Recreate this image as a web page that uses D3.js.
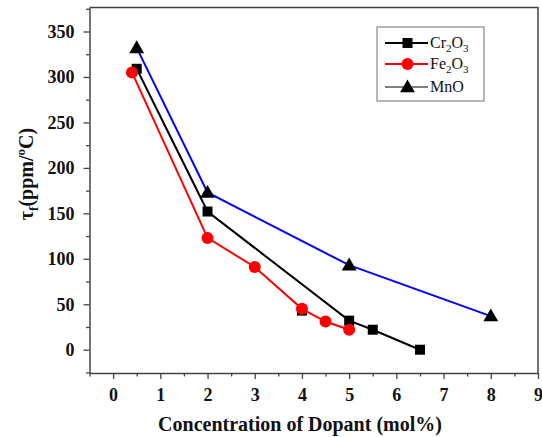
<!DOCTYPE html>
<html>
<head>
<meta charset="utf-8">
<script src="https://cdn.jsdelivr.net/npm/d3@7"></script>
<style>
  body { margin: 0; background: #fff; }
</style>
</head>
<body>
<div id="chart"></div>
<script>
// data
const crX = [0.5, 2, 5, 5.5, 6.5];
const crY = [309, 152, 32, 22, 0];
const crStrayX = [4];
const crStrayY = [43];
const feX = [0.4, 2, 3, 4, 4.5, 5];
const feY = [305, 123, 91, 45, 31, 22];
const mnX = [0.5, 2, 5, 8];
const mnY = [332, 173, 93, 37];
const xTicks = [0, 1, 2, 3, 4, 5, 6, 7, 8, 9];
const yTicks = [0, 50, 100, 150, 200, 250, 300, 350];

const W = 542, H = 437;
const margin = {top: 7.5, right: 4, bottom: 64, left: 89.5};
const serif = "'Liberation Serif', 'Times New Roman', 'DejaVu Serif', serif";

const svg = d3.select("#chart")
  .append("svg")
  .attr("width", W)
  .attr("height", H)
  .style("font-family", serif);

const x = d3.scaleLinear()
  .domain([-0.5, 9])
  .range([margin.left, W - margin.right]);

const y = d3.scaleLinear()
  .domain([-25.6, 376.4])
  .range([H - margin.bottom, margin.top]);

const axisColor = "#444";

// frame (top + right)
svg.append("path")
  .attr("d", `M${x(-0.5)},${y(376.4)}H${x(9)}V${y(-25.6)}`)
  .attr("fill", "none")
  .attr("stroke", axisColor)
  .attr("stroke-width", 1.5);

// minor ticks
const xMinor = d3.range(-0.5, 9.01, 0.5).filter(v => !Number.isInteger(v));
const yMinor = d3.range(-25, 376, 25).filter(v => v % 50 !== 0);

svg.append("g")
  .attr("transform", `translate(0, ${y(-25.6)})`)
  .call(d3.axisBottom(x).tickValues(xMinor).tickSize(3.5).tickFormat(""))
  .call(g => g.select(".domain").remove())
  .selectAll("line").attr("stroke", axisColor).attr("stroke-width", 1.3);

svg.append("g")
  .attr("transform", `translate(${x(-0.5)}, 0)`)
  .call(d3.axisLeft(y).tickValues(yMinor).tickSize(3.5).tickFormat(""))
  .call(g => g.select(".domain").remove())
  .selectAll("line").attr("stroke", axisColor).attr("stroke-width", 1.3);

// major axes
const xAxis = svg.append("g")
  .attr("transform", `translate(0, ${y(-25.6)})`)
  .call(d3.axisBottom(x).tickValues(xTicks).tickSize(6).tickSizeOuter(0).tickPadding(9));

const yAxis = svg.append("g")
  .attr("transform", `translate(${x(-0.5)}, 0)`)
  .call(d3.axisLeft(y).tickValues(yTicks).tickSize(6).tickSizeOuter(0).tickPadding(9));

[xAxis, yAxis].forEach(g => {
  g.attr("font-family", null).attr("font-size", null);
  g.select(".domain").attr("stroke", axisColor).attr("stroke-width", 1.5);
  g.selectAll("line").attr("stroke", axisColor).attr("stroke-width", 1.3);
  g.selectAll("text")
    .style("font-family", serif)
    .style("font-weight", "bold")
    .style("font-size", "18px")
    .attr("fill", "#111");
});

// axis titles
svg.append("text")
  .attr("x", 300)
  .attr("y", 431)
  .attr("text-anchor", "middle")
  .style("font-weight", "bold")
  .style("font-size", "20px")
  .attr("fill", "#111")
  .text("Concentration of Dopant (mol%)");

const yTitle = svg.append("text")
  .attr("transform", "translate(33, 174) rotate(-90)")
  .attr("text-anchor", "middle")
  .style("font-weight", "bold")
  .style("font-size", "20px")
  .attr("fill", "#111");
yTitle.append("tspan").text("τ");
yTitle.append("tspan").style("font-size", "13px").attr("dy", 5).text("f");
yTitle.append("tspan").attr("dy", -5).text("(ppm/");
yTitle.append("tspan").style("font-size", "13px").attr("dy", -8).text("o");
yTitle.append("tspan").attr("dy", 8).text("C)");

// series
const line = d3.line().x(d => x(d[0])).y(d => y(d[1]));
const crPts = crX.map((v, i) => [v, crY[i]]);
const fePts = feX.map((v, i) => [v, feY[i]]);
const mnPts = mnX.map((v, i) => [v, mnY[i]]);
const strayPts = crStrayX.map((v, i) => [v, crStrayY[i]]);

const sq = d3.symbol().type(d3.symbolSquare).size(100);
const tri = d3.symbol().type(d3.symbolTriangle).size(95);

// MnO
svg.append("path").datum(mnPts)
  .attr("d", line).attr("fill", "none").attr("stroke", "#0000ff").attr("stroke-width", 2);
svg.selectAll(".mn").data(mnPts).join("path")
  .attr("transform", d => `translate(${x(d[0])}, ${y(d[1]) + 1})`)
  .attr("d", tri).attr("fill", "#000");

// Cr2O3
svg.selectAll(".crs").data(strayPts).join("path")
  .attr("transform", d => `translate(${x(d[0])}, ${y(d[1])})`)
  .attr("d", sq).attr("fill", "#000");
svg.append("path").datum(crPts)
  .attr("d", line).attr("fill", "none").attr("stroke", "#000").attr("stroke-width", 2);
svg.selectAll(".cr").data(crPts).join("path")
  .attr("transform", d => `translate(${x(d[0])}, ${y(d[1])})`)
  .attr("d", sq).attr("fill", "#000");

// Fe2O3
svg.append("path").datum(fePts)
  .attr("d", line).attr("fill", "none").attr("stroke", "#ff0000").attr("stroke-width", 2);
svg.selectAll(".fe").data(fePts).join("circle")
  .attr("cx", d => x(d[0])).attr("cy", d => y(d[1])).attr("r", 6)
  .attr("fill", "#ff0000");

// legend
const legend = svg.append("g");
legend.append("rect")
  .attr("x", 377).attr("y", 27).attr("width", 107).attr("height", 74)
  .attr("fill", "#fff").attr("stroke", "#888").attr("stroke-width", 1.2);

const legRows = [
  {name: ["Cr", "2", "O", "3"], color: "#000", w: 2, mark: "sq", yy: 43},
  {name: ["Fe", "2", "O", "3"], color: "#ff0000", w: 2, mark: "circle", yy: 64},
  {name: ["MnO"], color: "#000", w: 1, mark: "tri", yy: 87}
];

legRows.forEach(r => {
  legend.append("line")
    .attr("x1", 385).attr("x2", 428).attr("y1", r.yy).attr("y2", r.yy)
    .attr("stroke", r.color).attr("stroke-width", r.w);
  if (r.mark === "sq") {
    legend.append("path").attr("transform", `translate(407.5, ${r.yy})`)
      .attr("d", sq).attr("fill", "#000");
  } else if (r.mark === "circle") {
    legend.append("circle").attr("cx", 407.5).attr("cy", r.yy).attr("r", 6).attr("fill", "#ff0000");
  } else {
    legend.append("path").attr("transform", `translate(407.5, ${r.yy + 1})`)
      .attr("d", tri).attr("fill", "#000");
  }
  const t = legend.append("text")
    .attr("x", 430).attr("y", r.yy + 5)
    .style("font-size", "16px").attr("fill", "#111");
  if (r.name.length === 1) {
    t.text(r.name[0]);
  } else {
    t.append("tspan").text(r.name[0]);
    t.append("tspan").style("font-size", "11px").attr("dy", 4).text(r.name[1]);
    t.append("tspan").attr("dy", -4).text(r.name[2]);
    t.append("tspan").style("font-size", "11px").attr("dy", 4).text(r.name[3]);
  }
});
</script>
</body>
</html>
